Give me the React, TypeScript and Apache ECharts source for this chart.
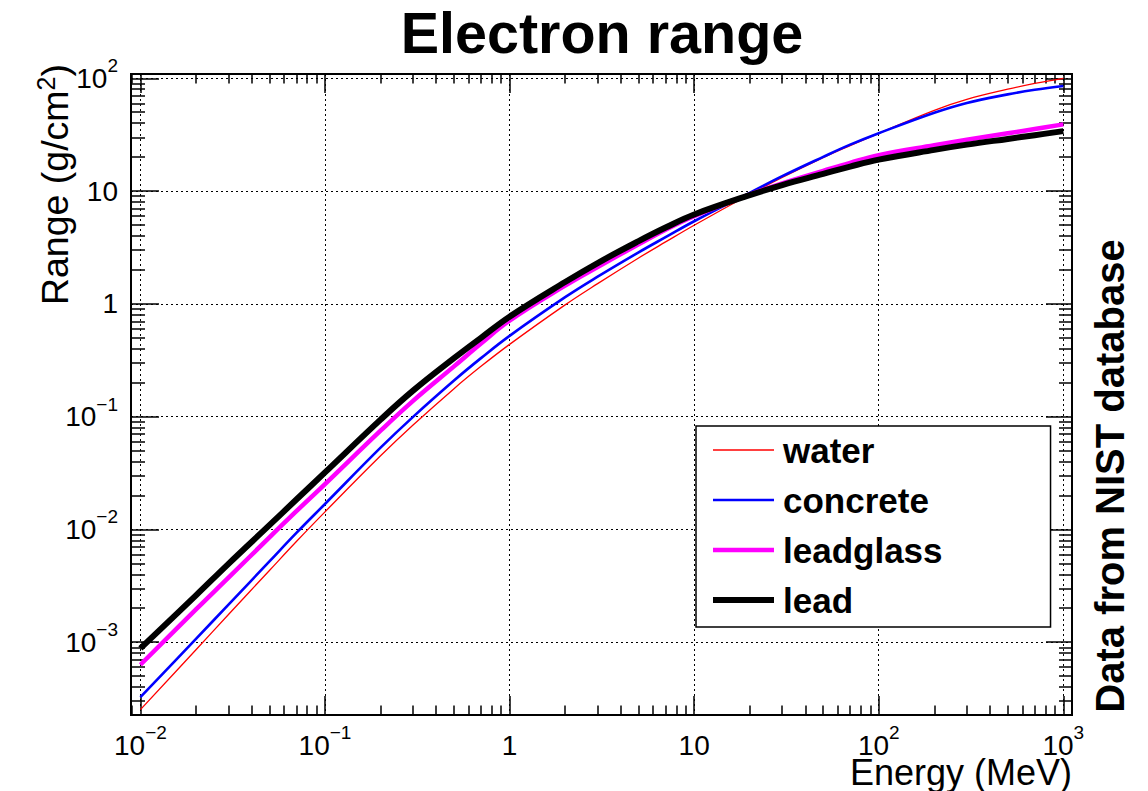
import React, { useEffect, useRef } from 'react';
import * as echarts from 'echarts';

// Kinetic energy of the electron (MeV)
const energies = [0.01, 0.02, 0.03, 0.05, 0.07, 0.1, 0.2, 0.3, 0.5, 0.7, 1, 2, 3, 5, 7, 10, 20, 30, 50, 70, 100, 200, 300, 500, 700, 1000];

// CSDA range (g/cm^2) for each material
const waterRange = [2.52e-4, 8.57e-4, 1.76e-3, 4.32e-3, 7.8e-3, 1.43e-2, 4.49e-2, 8.42e-2, 0.177, 0.279, 0.437, 0.979, 1.51, 2.55, 3.54, 4.98, 9.32, 13.2, 19.8, 25.3, 32.5, 52, 65, 80, 90, 100];
const concreteRange = [3.25e-4, 1.07e-3, 2.15e-3, 5.2e-3, 9.3e-3, 0.0168, 0.053, 0.0995, 0.209, 0.33, 0.52, 1.145, 1.74, 2.86, 3.9, 5.4, 9.65, 13.55, 20.1, 25.8, 32.6, 49.5, 60.5, 72, 79, 85.5];
const leadglassRange = [6.3e-4, 1.95e-3, 3.73e-3, 8.5e-3, 0.0145, 0.0252, 0.075, 0.138, 0.279, 0.445, 0.71, 1.45, 2.12, 3.37, 4.55, 6.0, 9.3, 11.7, 15.1, 17.8, 20.8, 25.5, 28.5, 32.5, 35.5, 39];
const leadRange = [8.8e-4, 2.6e-3, 4.95e-3, 0.0109, 0.0184, 0.032, 0.094, 0.17, 0.33, 0.5, 0.77, 1.56, 2.3, 3.6, 4.75, 6.2, 9.2, 11.3, 14.2, 16.5, 19.0, 23.2, 25.8, 29, 31.3, 34];

// Decades labelled on each axis (powers of ten)
const xDecades = [-2, -1, 0, 1, 2, 3];
const yDecades = [-3, -2, -1, 0, 1, 2];

// Axis extents in log10 units
const X_MIN = -2.051;
const X_MAX = 3.047;
const Y_MIN = -3.646;
const Y_MAX = 2.038;

const FONT = '"Liberation Sans", Arial, Helvetica, sans-serif';

const toLogPoints = (xs: number[], ys: number[]) =>
  xs.map((x, i) => [Math.log10(x), Math.log10(ys[i])]);

const minorTicks = (lo: number, hi: number) => {
  const out: number[] = [];
  for (let n = Math.floor(lo); n <= Math.ceil(hi); n++) {
    for (let k = 2; k <= 9; k++) {
      const v = n + Math.log10(k);
      if (v > lo && v < hi) out.push(v);
    }
  }
  return out;
};

const powLabel = (v: number) => {
  const n = Math.round(v);
  if (Math.abs(v - n) > 1e-6) return '';
  if (n === 0) return '{b|1}';
  if (n === 1) return '{b|10}';
  return `{b|10}{s|${n < 0 ? '\u2212' : ''}${Math.abs(n)}}`;
};

// tall line box for the base digits so the top-aligned exponent sits raised
const labelRich = {
  b: { fontFamily: FONT, fontSize: 28, lineHeight: 44, color: '#000' },
  s: { fontFamily: FONT, fontSize: 19, lineHeight: 6, verticalAlign: 'top', color: '#000' },
};

const tickLine = { color: '#000', width: 1.5 };

function baseAxis(min: number, max: number) {
  return {
    type: 'value',
    min,
    max,
    splitNumber: 5,
    axisLine: { show: false, onZero: false },
    splitLine: { show: false },
    axisLabel: { show: false },
    axisTick: { show: false },
  };
}

function majorAxis(min: number, max: number, position: string, values: number[], len: number, withLabels: boolean, margin: number) {
  const a: any = baseAxis(min, max);
  a.position = position;
  a.axisTick = { show: true, inside: true, length: len, customValues: values, lineStyle: tickLine };
  if (withLabels) {
    a.axisLabel = { show: true, customValues: values, formatter: powLabel, margin, rich: labelRich };
    a.splitLine = { show: true, lineStyle: { color: '#000', width: 1, type: [2, 3] } };
  }
  return a;
}

function minorAxis(min: number, max: number, position: string, len: number) {
  const a: any = baseAxis(min, max);
  a.position = position;
  a.axisTick = { show: true, inside: true, length: len, customValues: minorTicks(min, max), lineStyle: tickLine };
  return a;
}

const seriesDefs = [
  { name: 'water', data: waterRange, color: '#ff0000', width: 1.3 },
  { name: 'concrete', data: concreteRange, color: '#0000ff', width: 2.6 },
  { name: 'leadglass', data: leadglassRange, color: '#ff00ff', width: 4.5 },
  { name: 'lead', data: leadRange, color: '#000000', width: 6 },
];

export default function App() {
  const ref = useRef<HTMLDivElement>(null);

  useEffect(() => {
    if (!ref.current) return;
    const chart = echarts.init(ref.current, undefined, { renderer: 'svg' });

    chart.setOption({
      animation: false,
      backgroundColor: '#fff',
      grid: {
        left: 131,
        right: 76,
        top: 74,
        bottom: 76,
        show: true,
        borderColor: '#000',
        borderWidth: 2,
        backgroundColor: 'transparent',
      },
      xAxis: [
        majorAxis(X_MIN, X_MAX, 'bottom', xDecades, 19, true, 8),
        minorAxis(X_MIN, X_MAX, 'bottom', 9.5),
        majorAxis(X_MIN, X_MAX, 'top', xDecades, 19, false, 0),
        minorAxis(X_MIN, X_MAX, 'top', 9.5),
      ],
      yAxis: [
        majorAxis(Y_MIN, Y_MAX, 'left', yDecades, 28, true, 13),
        minorAxis(Y_MIN, Y_MAX, 'left', 14),
        majorAxis(Y_MIN, Y_MAX, 'right', yDecades, 26, false, 0),
        minorAxis(Y_MIN, Y_MAX, 'right', 13),
      ],
      legend: {
        orient: 'vertical',
        left: 696,
        top: 426,
        padding: [4, 108, 7, 14],
        itemWidth: 61,
        itemHeight: 20,
        itemGap: 10,
        selectedMode: false,
        borderColor: '#000',
        borderWidth: 1.5,
        backgroundColor: '#fff',
        itemStyle: { opacity: 0 },
        textStyle: {
          fontFamily: FONT,
          fontWeight: 'bold',
          fontSize: 35,
          lineHeight: 40,
          color: '#000',
          padding: [0, 0, 0, 4],
        },
        data: seriesDefs.map((s) => ({ name: s.name, lineStyle: { width: s.width, color: s.color } })),
      },
      series: seriesDefs.map((s) => ({
        name: s.name,
        type: 'line',
        xAxisIndex: 0,
        yAxisIndex: 0,
        data: toLogPoints(energies, s.data),
        symbol: 'none',
        showSymbol: false,
        smooth: 0.4,
        lineStyle: { color: s.color, width: s.width, join: 'round' },
        itemStyle: { color: s.color },
        emphasis: { disabled: true },
      })),
      graphic: [
        {
          type: 'text',
          x: 602,
          y: 33,
          style: {
            text: 'Electron range',
            fontFamily: FONT,
            fontWeight: 'bold',
            fontSize: 57.5,
            fill: '#000',
            align: 'center',
            verticalAlign: 'middle',
          },
        },
        {
          type: 'text',
          x: 55,
          y: 64,
          rotation: Math.PI / 2,
          style: {
            text: '{t|Range (g/cm}{s|2}{t|)}',
            align: 'right',
            verticalAlign: 'middle',
            rich: {
              t: { fontFamily: FONT, fontSize: 37.5, lineHeight: 44, fill: '#000' },
              s: { fontFamily: FONT, fontSize: 25, lineHeight: 18, verticalAlign: 'top', fill: '#000' },
            },
          },
        },
        {
          type: 'text',
          x: 1072,
          y: 772,
          style: {
            text: 'Energy (MeV)',
            fontFamily: FONT,
            fontSize: 36,
            lineHeight: 26,
            fill: '#000',
            align: 'right',
            verticalAlign: 'middle',
          },
        },
        {
          type: 'text',
          x: 1110,
          y: 476,
          rotation: Math.PI / 2,
          style: {
            text: 'Data from NIST database',
            fontFamily: FONT,
            fontWeight: 'bold',
            fontSize: 40,
            fill: '#000',
            align: 'center',
            verticalAlign: 'middle',
          },
        },
      ],
    });

    return () => chart.dispose();
  }, []);

  return (
    <div
      ref={ref}
      style={{ position: 'absolute', left: 0, top: 0, width: 1148, height: 791, background: '#fff' }}
    />
  );
}
